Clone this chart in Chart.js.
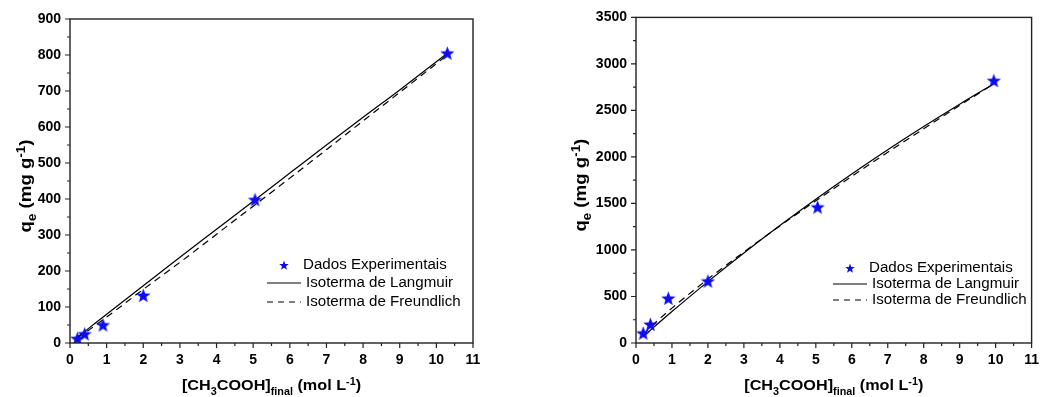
<!DOCTYPE html>
<html>
<head>
<meta charset="utf-8">
<script src="https://cdn.jsdelivr.net/npm/chart.js@4.4.1/dist/chart.umd.min.js"></script>
<style>
  html, body { margin: 0; padding: 0; background: #fff; }
  .box { position: absolute; top: 0; width: 524px; height: 397px; }
</style>
</head>
<body>
<div class="box" style="left:0"><canvas id="chartA" width="524" height="397"></canvas></div>
<div class="box" style="left:524px"><canvas id="chartB" width="524" height="397"></canvas></div>
<script>
// Dados (esquerda)
const expXA = [0.2, 0.4, 0.9, 2.0, 5.05, 10.3];
const expYA = [12, 25, 50, 132, 398, 805];
const fitXA = [0.2, 0.5, 1, 2, 3, 4, 5, 6, 7, 8, 9, 10.3];
const langYA = [16, 40, 80, 159, 238, 316, 394, 472, 550, 627, 703, 805];
const freuYA = [14, 35, 72, 149, 224, 302, 380, 458, 537, 617, 696, 800];

// Dados (direita)
const expXB = [0.2, 0.4, 0.9, 2.0, 5.05, 9.95];
const expYB = [105, 200, 480, 665, 1460, 2820];
const fitXB = [0.2, 0.5, 1, 2, 3, 4, 5, 6, 7, 8, 9, 10];
const langYB = [69, 171, 338, 660, 968, 1263, 1546, 1817, 2077, 2327, 2567, 2798];
const freuYB = [92, 205, 375, 687, 978, 1258, 1528, 1792, 2050, 2303, 2553, 2799];

const xTicks = [0, 1, 2, 3, 4, 5, 6, 7, 8, 9, 10, 11];
const yTicksA = [0, 100, 200, 300, 400, 500, 600, 700, 800, 900];
const yTicksB = [0, 500, 1000, 1500, 2000, 2500, 3000, 3500];

const seriesNames = ['Dados Experimentais', 'Isoterma de Langmuir', 'Isoterma de Freundlich'];

const xTitle = [{ t: '[CH' }, { t: '3', s: 'sub' }, { t: 'COOH]' }, { t: 'final', s: 'sub' }, { t: ' (mol L' }, { t: '-1', s: 'sup' }, { t: ')' }];
const yTitle = [{ t: 'q' }, { t: 'e', s: 'sub' }, { t: ' (mg g' }, { t: '-1', s: 'sup' }, { t: ')' }];

const FONT = '"Liberation Sans", Arial, sans-serif';
const STAR_BLUE = '#0c0cf2';

function makeStar(size, color) {
    const c = document.createElement('canvas');
    c.width = size; c.height = size;
    const g = c.getContext('2d');
    const r = size / 2, ri = r * 0.42;
    g.beginPath();
    for (let i = 0; i < 10; i++) {
        const rad = i % 2 === 0 ? r : ri;
        const a = -Math.PI / 2 + i * Math.PI / 5;
        const px = r + rad * Math.cos(a), py = r + 0.6 + rad * Math.sin(a);
        if (i === 0) g.moveTo(px, py); else g.lineTo(px, py);
    }
    g.closePath();
    g.fillStyle = color;
    g.fill();
    return c;
}
const bigStar = makeStar(15, STAR_BLUE);
const smallStar = makeStar(10, STAR_BLUE);

const toPts = (xs, ys) => xs.map((x, i) => ({ x, y: ys[i] }));

// texto com subscrito/sobrescrito
function drawRich(ctx, segs, x, y, size, sx, rotate) {
    const big = `bold ${size}px ${FONT}`;
    const small = `bold ${Math.round(size * 0.68)}px ${FONT}`;
    ctx.save();
    let total = 0;
    segs.forEach(s => { ctx.font = s.s ? small : big; total += ctx.measureText(s.t).width; });
    ctx.translate(x, y);
    if (rotate) ctx.rotate(-Math.PI / 2);
    ctx.scale(sx, 1);
    ctx.fillStyle = '#000';
    ctx.textBaseline = 'alphabetic';
    ctx.textAlign = 'left';
    let cx = -total / 2;
    const base = size * 0.36;
    segs.forEach(s => {
        ctx.font = s.s ? small : big;
        const dy = s.s === 'sub' ? size * 0.3 : s.s === 'sup' ? -size * 0.38 : 0;
        ctx.fillText(s.t, cx, base + dy);
        cx += ctx.measureText(s.t).width;
    });
    ctx.restore();
}

const framePlugin = {
    id: 'frame',
    afterDraw(chart, args, o) {
        const { ctx, chartArea: a, scales } = chart;
        ctx.save();
        ctx.strokeStyle = '#222';
        ctx.lineWidth = 1.4;
        ctx.strokeRect(a.left, a.top, a.right - a.left, a.bottom - a.top);
        ctx.lineWidth = 1.2;
        ctx.beginPath();
        for (let v = 0; v <= 11.001; v += 0.5) {
            const px = scales.x.getPixelForValue(v);
            const len = Math.abs(v - Math.round(v)) < 1e-6 ? 5 : 3;
            ctx.moveTo(px, a.bottom); ctx.lineTo(px, a.bottom + len);
        }
        const st = o.yStep;
        for (let v = 0; v <= scales.y.max + 1e-6; v += st / 2) {
            const py = scales.y.getPixelForValue(v);
            const len = Math.abs(v / st - Math.round(v / st)) < 1e-6 ? 5 : 3;
            ctx.moveTo(a.left, py); ctx.lineTo(a.left - len, py);
        }
        ctx.stroke();
        ctx.restore();

        drawRich(ctx, xTitle, (a.left + a.right) / 2, 385, 15, 1.08, false);
        drawRich(ctx, yTitle, a.left - o.yTitleOff, (a.top + a.bottom) / 2 + 5, 17, 1.1, true);

        // legenda
        const L = o.legend;
        ctx.save();
        ctx.font = `14px ${FONT}`;
        ctx.fillStyle = '#000';
        ctx.textBaseline = 'middle';
        ctx.drawImage(smallStar, (L.x0 + L.x1) / 2 - 5, L.rows[0] - 5);
        const drawLabel = (txt, x, y) => {
            ctx.save(); ctx.translate(x, y); ctx.scale(1.08, 1); ctx.fillText(txt, 0, 0); ctx.restore();
        };
        drawLabel(seriesNames[0], L.x1 + 2, L.rows[0]);
        ctx.strokeStyle = '#000';
        ctx.lineWidth = 1.2;
        ctx.beginPath(); ctx.moveTo(L.x0, L.rows[1]); ctx.lineTo(L.x1, L.rows[1]); ctx.stroke();
        drawLabel(seriesNames[1], L.x1 + 5, L.rows[1]);
        ctx.setLineDash([6, 5]);
        ctx.beginPath(); ctx.moveTo(L.x0, L.rows[2]); ctx.lineTo(L.x1, L.rows[2]); ctx.stroke();
        drawLabel(seriesNames[2], L.x1 + 5, L.rows[2]);
        ctx.restore();
    }
};

function makeChart(id, expX, expY, fitX, langY, freuY, yTicks, cfg) {
    const yStep = yTicks[1] - yTicks[0];
    return new Chart(document.getElementById(id), {
        type: 'scatter',
        data: {
            datasets: [
                {
                    label: seriesNames[0],
                    data: toPts(expX, expY),
                    pointStyle: bigStar,
                    pointRadius: 7,
                    showLine: false
                },
                {
                    label: seriesNames[1],
                    data: toPts(fitX, langY),
                    showLine: true,
                    borderColor: '#000',
                    borderWidth: 1.2,
                    pointRadius: 0,
                    cubicInterpolationMode: 'monotone'
                },
                {
                    label: seriesNames[2],
                    data: toPts(fitX, freuY),
                    showLine: true,
                    borderColor: '#000',
                    borderWidth: 1.2,
                    borderDash: [7, 5],
                    pointRadius: 0,
                    cubicInterpolationMode: 'monotone'
                }
            ]
        },
        options: {
            responsive: false,
            animation: false,
            devicePixelRatio: 1,
            layout: { autoPadding: false, padding: { left: 0, right: cfg.padRight, top: cfg.padTop, bottom: 0 } },
            plugins: {
                legend: { display: false },
                tooltip: { enabled: false },
                frame: { yStep, yTitleOff: cfg.yTitleOff, legend: cfg.legend }
            },
            scales: {
                x: {
                    type: 'linear',
                    min: xTicks[0],
                    max: xTicks[xTicks.length - 1],
                    afterBuildTicks: s => { s.ticks = xTicks.map(v => ({ value: v })); },
                    ticks: { color: '#000', padding: 9, font: { family: FONT, size: 14, weight: 'bold' }, maxRotation: 0, autoSkip: false, callback: v => String(v) },
                    grid: { display: false, drawTicks: false },
                    border: { display: false },
                    afterFit: s => { s.height = 54; }
                },
                y: {
                    type: 'linear',
                    min: yTicks[0],
                    max: yTicks[yTicks.length - 1],
                    afterBuildTicks: s => { s.ticks = yTicks.map(v => ({ value: v })); },
                    ticks: { color: '#000', padding: 9, font: { family: FONT, size: 14, weight: 'bold' }, autoSkip: false, callback: v => String(v) },
                    grid: { display: false, drawTicks: false },
                    border: { display: false },
                    afterFit: s => { s.width = cfg.yWidth; }
                }
            }
        },
        plugins: [framePlugin]
    });
}

makeChart('chartA', expXA, expYA, fitXA, langYA, freuYA, yTicksA, {
    padRight: 51, padTop: 19, yWidth: 70, yTitleOff: 45,
    legend: { x0: 267, x1: 301, rows: [265, 283, 302] }
});
makeChart('chartB', expXB, expYB, fitXB, langYB, freuYB, yTicksB, {
    padRight: 9, padTop: 17, yWidth: 112, yTitleOff: 56,
    legend: { x0: 309, x1: 343, rows: [268, 284, 300] }
});
</script>
</body>
</html>
